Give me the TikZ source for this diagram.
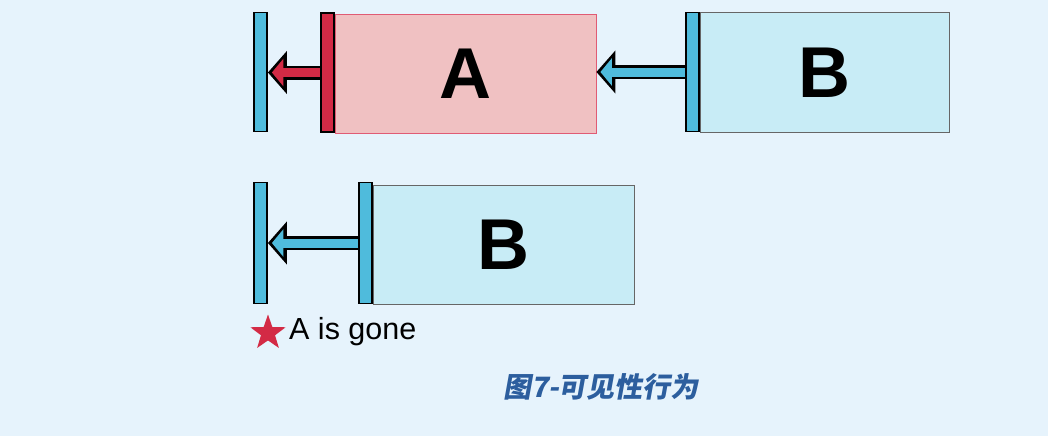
\documentclass[tikz,border=0pt]{standalone}
\usepackage{fontspec}
\setmainfont{Liberation Sans}
\newfontfamily\cjk[FakeSlant=0.18]{Noto Sans CJK SC}
\usetikzlibrary{arrows.meta,shapes.geometric}

\definecolor{bgblue}{HTML}{E6F3FC}
\definecolor{barblue}{HTML}{4FBBDC}
\definecolor{boxblue}{HTML}{C8ECF6}
\definecolor{barred}{HTML}{D32A45}
\definecolor{boxpink}{HTML}{F0C1C2}
\definecolor{pinkline}{HTML}{E05B74}
\definecolor{capblue}{HTML}{2C5E9E}

\begin{document}
\begin{tikzpicture}[x=1pt,y=-1pt]
\tikzset{bar/.style = {rectangle,draw=black,line width=1.8pt,inner sep=0pt,minimum width=13pt,minimum height=119pt},
  layerA/.style = {rectangle,fill=boxpink,draw=pinkline,line width=0.8pt,inner sep=0pt,minimum width=261pt,minimum height=119pt,font=\fontsize{72}{80}\selectfont\bfseries},
  layerB/.style = {rectangle,fill=boxblue,draw=black!60,line width=1pt,inner sep=0pt,minimum width=249pt,minimum height=119pt,font=\fontsize{72}{80}\selectfont\bfseries},
  fat/.style = {draw=black,line width=14pt,-{Triangle[length=19pt,width=42pt]},
    postaction={draw=#1,line width=9pt,-{Triangle[length=11.5pt,width=27pt]},shorten >=4pt},
    postaction={draw=#1,line width=9pt,-,shorten >=12pt}}}

\fill[bgblue] (0,0) rectangle (1048,436);
\useasboundingbox (0,0) rectangle (1048,436);

% before
\node[layerA] (boxA) at (465.5,73.5) {A};
\node[layerB] (boxB) at (824.5,72.5) {B};
\node[bar,fill=barblue] (floor1) at (260.5,72) {};
\node[bar,fill=barred] (edgeA) at (327.5,72.5) {};
\node[bar,fill=barblue] (edgeB) at (692.5,72) {};
\draw[fat=barred] (edgeA.west) -- (floor1.east |- edgeA.west);
\draw[fat=barblue] (edgeB.west) -- (boxA.east |- edgeB.west);

% after
\node[layerB,minimum width=261pt] (boxB2) at (503.5,244.5) {B};
\node[bar,fill=barblue,minimum height=121pt] (floor2) at (260.5,243) {};
\node[bar,fill=barblue,minimum height=121pt] (edgeB2) at (365.5,243) {};
\draw[fat=barblue] (edgeB2.west) -- (floor2.east);

\node[star,star points=5,star point ratio=2.5,fill=barred,inner sep=0pt,minimum size=37pt] (mark) at (268,333) {};
\node[anchor=west,inner sep=0pt,font=\fontsize{30.5}{34}\selectfont] (gone) at (289,332) {A is gone};

\node[text=capblue,font=\fontsize{28}{32}\selectfont\cjk\bfseries] (caption) at (601,387) {图7-可见性行为};
\end{tikzpicture}
\end{document}
